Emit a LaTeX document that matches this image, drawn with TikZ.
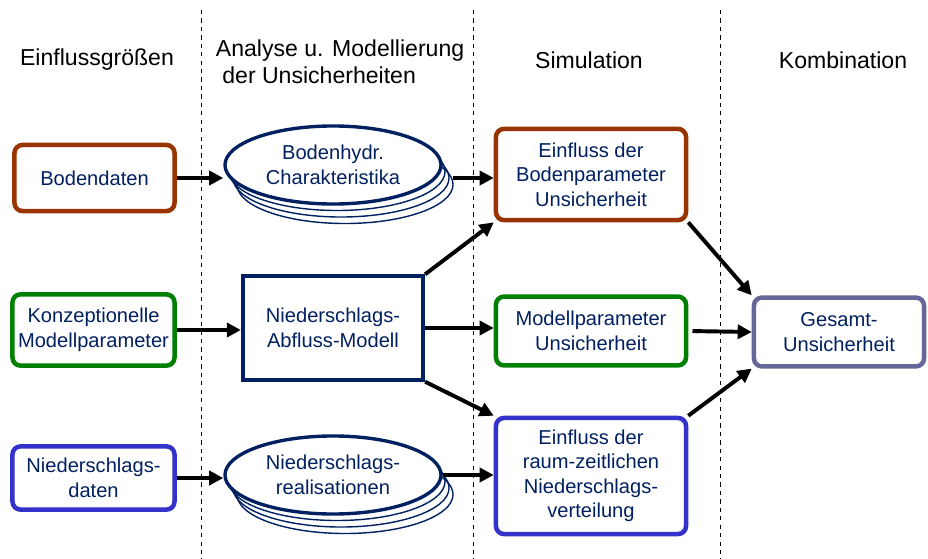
\documentclass[tikz,border=0pt]{standalone}
\usepackage{fontspec}
\setmainfont{Liberation Sans}
\usetikzlibrary{shapes.geometric,arrows.meta}
\definecolor{unsNavy}{RGB}{0,32,96}
\definecolor{unsBrown}{RGB}{153,51,0}
\definecolor{unsGreen}{RGB}{0,128,0}
\definecolor{unsBlue}{RGB}{51,51,204}
\definecolor{unsGray}{RGB}{102,102,153}
\tikzset{
  hdr/.style={font=\fontsize{16.4}{19.2}\selectfont, text=black},
  txt/.style={text=unsNavy, align=center, font=\fontsize{14.3}{17.4}\selectfont},
  inbox/.style={txt, draw=#1, line width=3.2pt, rounded corners=0.2cm, fill=white},
  stackell/.style={ellipse, draw=unsNavy, line width=1pt, minimum width=5.4cm, minimum height=1.95cm, inner sep=0pt},
  arr/.style={-{Triangle[length=10pt,width=10pt]}, line width=2.8pt, black},
  sep/.style={dashed, line width=0.7pt}
}
\begin{document}
\begin{tikzpicture}[x=0.025cm, y=-0.025cm]
        \useasboundingbox (0,0) rectangle (928,559);
        \draw[sep] (201,10) -- (201,559);
        \draw[sep] (473,10) -- (473,559);
        \draw[sep] (720,10) -- (720,559);

        \node[hdr] (hEin) at (97,60) {Einflussgrößen};
        \node[hdr, anchor=west, align=left] (hAna) at (211,62) {Analyse u. Modellierung\\\ der Unsicherheiten};
        \node[hdr] (hSim) at (589,60) {Simulation};
        \node[hdr] (hKom) at (843,60) {Kombination};

        \node[inbox=unsBrown, minimum width=4cm, minimum height=1.65cm] (boden) at (94.5,178) {Bodendaten};
        \node[inbox=unsGreen, minimum width=4.05cm, minimum height=1.78cm] (konz) at (93.5,330) {Konzeptionelle\\Modellparameter};
        \node[inbox=unsBlue, minimum width=4.05cm, minimum height=1.58cm] (nd) at (93.5,478) {Niederschlags-\\daten};

        \foreach \k in {3,2,1}
          \node[stackell] (ell1s\k) at (333+4*\k,165+6.5*\k) {};
        \node[stackell, txt, fill=white, line width=2.4pt] (ell1) at (333,165) {Bodenhydr.\\Charakteristika};
        \foreach \k in {3,2,1}
          \node[stackell] (ell2s\k) at (333+4*\k,475+6.5*\k) {};
        \node[stackell, txt, fill=white, line width=2.4pt] (ell2) at (333,475) {Niederschlags-\\realisationen};

        \node[txt, draw=unsNavy, line width=3pt, fill=white, minimum width=4.5cm, minimum height=2.58cm] (na) at (333,328) {Niederschlags-\\Abfluss-Modell};

        \node[inbox=unsBrown, minimum width=4.75cm, minimum height=2.28cm] (einfl) at (591,174.5) {Einfluss der\\Bodenparameter\\Unsicherheit};
        \node[inbox=unsGreen, minimum width=4.75cm, minimum height=1.72cm] (modpar) at (591,331) {Modellparameter\\Unsicherheit};
        \node[inbox=unsBlue, minimum width=4.75cm, minimum height=2.9cm] (raum) at (591,476) {Einfluss der\\raum-zeitlichen\\Niederschlags-\\verteilung};
        \node[inbox=unsGray, minimum width=4.25cm, minimum height=1.72cm] (ges) at (839,332) {Gesamt-\\Unsicherheit};

        \draw[arr] (boden.east) -- (boden.east -| ell1.west);
        \draw[arr, shorten <=2pt] (ell1s2.east |- boden.east) -- (einfl.west |- boden.east);
        \draw[arr] (konz.east) -- (konz.east -| na.west);
        \draw[arr] (na.east) -- (na.east -| modpar.west);
        \draw[arr] (na.north east) -- (einfl.south west);
        \draw[arr] (na.south east) -- (raum.north west);
        \draw[arr] (nd.east) -- (nd.east -| ell2.west);
        \draw[arr] (ell2.east) -- (raum.west |- ell2.east);
        \draw[arr] (einfl.south east) -- (ges.north west);
        \draw[arr, shorten <=3pt] (modpar.east) -- (ges.west);
        \draw[arr] (raum.north east) -- (ges.south west);
      \end{tikzpicture}
\end{document}
